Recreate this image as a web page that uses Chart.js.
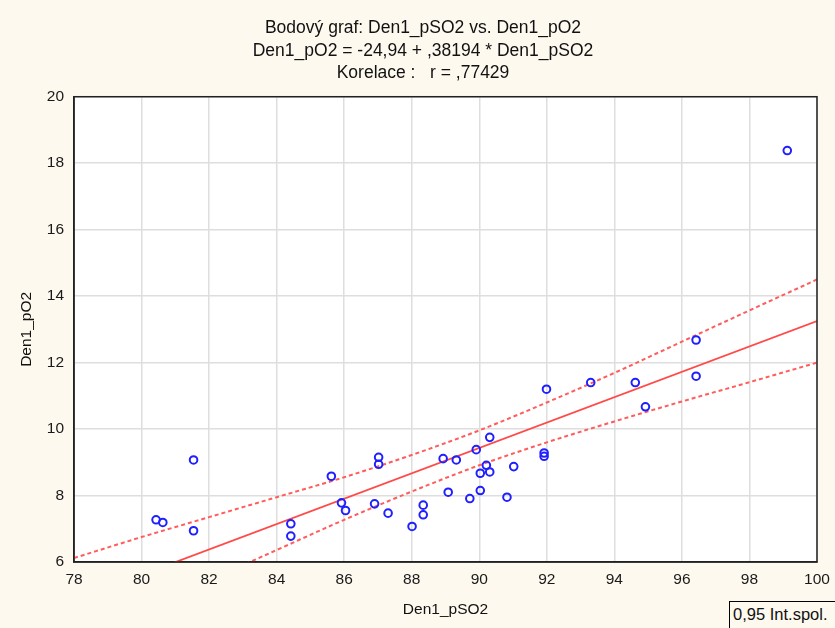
<!DOCTYPE html>
<html>
<head>
<meta charset="utf-8">
<script src="https://cdn.jsdelivr.net/npm/chart.js@4.4.1/dist/chart.umd.min.js"></script>
<style>
  html, body { margin: 0; padding: 0; background: #fdf9ef; }
  #wrap { position: relative; width: 835px; height: 628px; overflow: hidden; }
  #legendBox {
    position: absolute; left: 729px; top: 601px; width: 120px; height: 32px;
    border: 1.5px solid #000; background: #fdf9ef; box-sizing: border-box;
    font-family: "Liberation Sans", Arial, sans-serif;
    font-size: 16.5px; color: #111;
    line-height: 25px; padding-left: 3px; white-space: nowrap;
  }
</style>
</head>
<body>
<div id="wrap">
  <canvas id="c" width="835" height="628"></canvas>
  <div id="legendBox">0,95 Int.spol.</div>
</div>
<script>
// ---- data ----
const titleLines = [
  "Bodový graf: Den1_pSO2 vs. Den1_pO2",
  "Den1_pO2 = -24,94 + ,38194 * Den1_pSO2",
  "Korelace :   r = ,77429"
];
const xLabel = "Den1_pSO2";
const yLabel = "Den1_pO2";

const pSO2 = [80.43, 80.63, 81.54, 81.54, 84.42, 84.42, 85.62, 85.92, 86.04, 87.02,
              87.02, 86.90, 87.30, 88.01, 88.34, 88.34, 88.93, 89.08, 89.32, 89.91,
              90.31, 90.21, 90.03, 90.31, 91.02, 89.72, 90.03, 90.82, 91.92, 91.92,
              91.99, 93.30, 94.62, 94.92, 96.42, 96.42, 99.12];
const pO2  = [7.27, 7.19, 9.07, 6.94, 7.15, 6.78, 8.58, 7.78, 7.55, 9.15,
              8.94, 7.75, 7.47, 7.07, 7.71, 7.42, 9.11, 8.10, 9.07, 9.38,
              9.75, 8.91, 8.67, 8.71, 8.87, 7.91, 8.15, 7.95, 9.28, 9.18,
              11.20, 11.40, 11.40, 10.67, 12.68, 11.59, 18.38];

// regression line end points (from the equation in the title)
const fitX = [78, 100];
const fitY = [4.85, 13.25];

// 0.95 confidence band
const bandX     = [78, 80, 82, 84, 86, 88, 90, 92, 94, 96, 98, 100];
const bandUpper = [6.12, 6.75, 7.35, 7.95, 8.55, 9.22, 9.96, 10.80, 11.69, 12.63, 13.57, 14.50];
const bandLower = [3.58, 4.52, 5.45, 6.36, 7.27, 8.12, 8.91, 9.60, 10.23, 10.83, 11.41, 12.00];

const xTicks = [78, 80, 82, 84, 86, 88, 90, 92, 94, 96, 98, 100];
const yTicks = [6, 8, 10, 12, 14, 16, 18, 20];

// ---- build ----
const zip = (xs, ys) => xs.map((x, i) => ({ x: x, y: ys[i] }));
const FONT = '"Liberation Sans", Arial, sans-serif';

const plotBg = {
  id: 'plotBg',
  afterLayout(chart) {
    // title in the reference sits slightly right of the canvas centre
    if (chart.titleBlock) { chart.titleBlock.left += 8; chart.titleBlock.right += 8; }
  },
  beforeDraw(chart) {
    const { ctx, chartArea: a } = chart;
    ctx.save();
    ctx.fillStyle = '#fdf9ef';
    ctx.fillRect(0, 0, chart.width, chart.height);
    ctx.fillStyle = '#ffffff';
    ctx.fillRect(a.left, a.top, a.right - a.left, a.bottom - a.top);
    ctx.restore();
  },
  afterDraw(chart) {
    const { ctx, chartArea: a } = chart;
    ctx.save();
    ctx.strokeStyle = '#222';
    ctx.lineWidth = 1.5;
    ctx.strokeRect(a.left, a.top, a.right - a.left, a.bottom - a.top);
    ctx.restore();
  }
};

new Chart(document.getElementById('c'), {
  type: 'scatter',
  data: {
    datasets: [
      {
        type: 'line', data: zip(bandX, bandUpper), borderColor: '#ff5c5c',
        borderWidth: 2, borderDash: [4, 3], pointRadius: 0, fill: false,
        cubicInterpolationMode: 'monotone', order: 2
      },
      {
        type: 'line', data: zip(bandX, bandLower), borderColor: '#ff5c5c',
        borderWidth: 2, borderDash: [4, 3], pointRadius: 0, fill: false,
        cubicInterpolationMode: 'monotone', order: 2
      },
      {
        type: 'line', data: zip(fitX, fitY), borderColor: '#ff4a4a',
        borderWidth: 1.8, pointRadius: 0, fill: false, order: 1
      },
      {
        data: zip(pSO2, pO2), pointStyle: 'circle', pointRadius: 3.8,
        pointBorderWidth: 2, pointBorderColor: '#1f1fff',
        pointBackgroundColor: 'rgba(0,0,0,0)', order: 0
      }
    ]
  },
  options: {
    responsive: false,
    animation: false,
    layout: { padding: { left: 13, right: 18, top: 0, bottom: 5 } },
    plugins: {
      legend: { display: false },
      tooltip: { enabled: false },
      title: {
        display: true, text: titleLines, color: '#111',
        font: { family: FONT, size: 17.5, weight: 'normal', lineHeight: 1.29 },
        padding: { top: 17, bottom: 12 }
      }
    },
    scales: {
      x: {
        type: 'linear', min: 78, max: 100,
        afterBuildTicks: (s) => { s.ticks = xTicks.map(v => ({ value: v })); },
        afterFit: (s) => { s.height = 61; s.paddingLeft = 0; s.paddingRight = 0; },
        grid: { color: '#dedede', lineWidth: 1.5, tickLength: 0, drawTicks: false },
        border: { color: '#222', width: 1.5 },
        ticks: { color: '#1a1a1a', font: { family: FONT, size: 15.5 }, padding: 8, maxRotation: 0 },
        title: { display: true, text: xLabel, color: '#111', font: { family: FONT, size: 15.5 }, padding: { top: 4 } }
      },
      y: {
        type: 'linear', min: 6, max: 20,
        afterBuildTicks: (s) => { s.ticks = yTicks.map(v => ({ value: v })); },
        afterFit: (s) => { s.width = 61; s.paddingTop = 0; s.paddingBottom = 0; },
        grid: { color: '#dedede', lineWidth: 1.5, tickLength: 0, drawTicks: false },
        border: { color: '#222', width: 1.5 },
        ticks: { color: '#1a1a1a', font: { family: FONT, size: 15.5 }, padding: 10 },
        title: { display: true, text: yLabel, color: '#111', font: { family: FONT, size: 15.5 }, padding: { bottom: 4 } }
      }
    }
  },
  plugins: [plotBg]
});
</script>
</body>
</html>
